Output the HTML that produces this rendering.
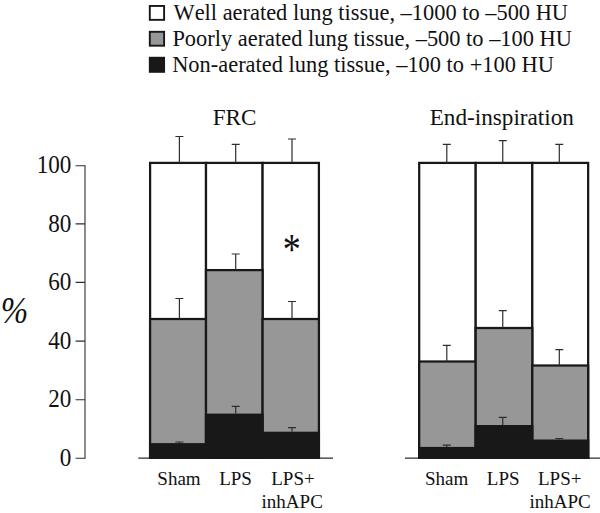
<!DOCTYPE html>
<html><head><meta charset="utf-8"><title>Lung aeration</title>
<style>
html,body{margin:0;padding:0;background:#fff}
svg{display:block}
text{font-family:"Liberation Serif","Times New Roman",serif;fill:#111;font-kerning:none}
</style></head><body>
<svg width="600" height="513" viewBox="0 0 600 513">
<rect width="600" height="513" fill="#fff"/>
<!-- legend -->
<g stroke="#181818" stroke-width="1.9">
<rect x="149.8" y="5.95" width="14.3" height="13.9" fill="#fff"/>
<rect x="149.8" y="31.8" width="14.3" height="13.9" fill="#979797"/>
<rect x="149.8" y="57.75" width="14.3" height="14.1" fill="#181818"/>
</g>
<g font-size="22.42">
<text x="173.5" y="20">Well aerated lung tissue, –1000 to –500 HU</text>
<text x="172.4" y="46.2">Poorly aerated lung tissue, –500 to –100 HU</text>
<text x="172.2" y="72">Non-aerated lung tissue, –100 to +100 HU</text>
</g>
<!-- titles -->
<g font-size="23.2" text-anchor="middle">
<text x="234.6" y="125.4">FRC</text>
<text x="501.8" y="125.4">End-inspiration</text>
</g>
<!-- axes -->
<g stroke="#2e2e2e" stroke-width="1.1" fill="none">
<path d="M85 165.2V458.8"/>
<path d="M75.6 165.8H85M75.6 223.9H85M75.6 282.4H85M75.6 341.1H85M75.6 399.7H85M75.6 458.2H85"/>
<path d="M138.3 458.2H333M405 458.2H600" stroke-width="1.3"/>
</g>
<g font-size="23.1" text-anchor="end">
<text transform="translate(71.3 173.1) scale(1 1.08)">100</text>
<text transform="translate(71.3 231.5) scale(1 1.08)">80</text>
<text transform="translate(71.3 290) scale(1 1.08)">60</text>
<text transform="translate(71.3 348.5) scale(1 1.08)">40</text>
<text transform="translate(71.3 407) scale(1 1.08)">20</text>
<text transform="translate(71.3 465.5) scale(1 1.08)">0</text>
</g>
<text transform="translate(0.65 323) scale(0.97 1.088)" font-size="34" font-style="italic">%</text>
<!-- left panel -->
<g stroke="#181818" stroke-width="2.25">
<rect x="150.1" y="162.9" width="55.9" height="294.98" fill="#fff"/>
<rect x="206" y="162.9" width="56.6" height="294.98" fill="#fff"/>
<rect x="262.6" y="162.9" width="56.3" height="294.98" fill="#fff"/>
<rect x="150.1" y="319" width="55.9" height="138.88" fill="#979797"/>
<rect x="206" y="270.1" width="56.6" height="187.77" fill="#979797"/>
<rect x="262.6" y="319" width="56.3" height="138.88" fill="#979797"/>
</g>
<g fill="#181818">
<rect x="148.97" y="443.1" width="58.15" height="15.9"/>
<rect x="204.88" y="413.6" width="58.85" height="45.4"/>
<rect x="261.48" y="431.7" width="58.55" height="27.3"/>
</g>
<!-- right panel -->
<g stroke="#181818" stroke-width="2.25">
<rect x="419.2" y="162.9" width="56.5" height="294.98" fill="#fff"/>
<rect x="475.7" y="162.9" width="56.6" height="294.98" fill="#fff"/>
<rect x="532.3" y="162.9" width="55.85" height="294.98" fill="#fff"/>
<rect x="419.2" y="361.5" width="56.5" height="96.38" fill="#979797"/>
<rect x="475.7" y="328" width="56.6" height="129.88" fill="#979797"/>
<rect x="532.3" y="365.5" width="55.85" height="92.38" fill="#979797"/>
</g>
<g fill="#181818">
<rect x="418.07" y="446.9" width="58.75" height="12.1"/>
<rect x="474.57" y="425" width="58.85" height="34"/>
<rect x="531.17" y="439.5" width="58.1" height="19.5"/>
</g>
<!-- error bars -->
<g stroke="#2e2e2e" stroke-width="1.2" fill="none">
<path d="M179.4 162.9V136.5M175.4 136.5h8"/>
<path d="M179.4 319V298.5M175.4 298.5h8"/>
<path d="M179.4 443.1V442M175.4 442h8"/>
<path d="M235.7 162.9V144.4M231.7 144.4h8"/>
<path d="M235.7 270.1V254M231.7 254h8"/>
<path d="M235.7 413.6V406.3M231.7 406.3h8"/>
<path d="M292 162.9V139M288 139h8"/>
<path d="M292 319V301.5M288 301.5h8"/>
<path d="M292 431.7V427.7M288 427.7h8"/>
<path d="M446.8 162.9V144.4M442.8 144.4h8"/>
<path d="M446.8 361.5V345.3M442.8 345.3h8"/>
<path d="M446.8 446.9V445.2M442.8 445.2h8"/>
<path d="M502.75 162.9V140.7M498.75 140.7h8"/>
<path d="M502.75 328V310.7M498.75 310.7h8"/>
<path d="M502.75 425V417.3M498.75 417.3h8"/>
<path d="M559.3 162.9V144.4M555.3 144.4h8"/>
<path d="M559.3 365.5V349.7M555.3 349.7h8"/>
<path d="M559.3 439.5V438.5M555.3 438.5h8"/>
</g>
<!-- asterisk -->
<text transform="translate(291.7 263.6) scale(0.9 1.086)" font-size="40" text-anchor="middle">*</text>
<!-- x labels -->
<g font-size="19" text-anchor="middle">
<text x="179" y="485">Sham</text>
<text x="235.5" y="485">LPS</text>
<text x="293" y="485">LPS+</text>
<text x="292.2" y="508.3">inhAPC</text>
<text x="446.7" y="485">Sham</text>
<text x="503.2" y="485">LPS</text>
<text x="559.7" y="485">LPS+</text>
<text x="560" y="508.3">inhAPC</text>
</g>
</svg>
</body></html>
